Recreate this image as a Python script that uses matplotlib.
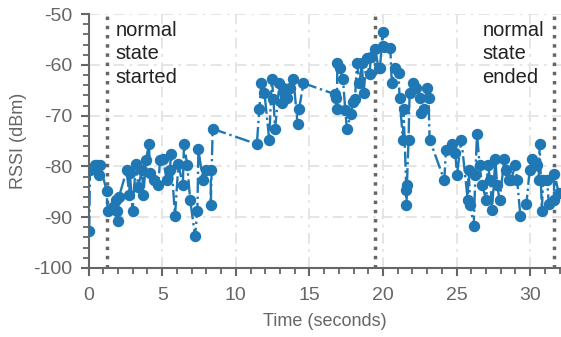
import numpy as np
import matplotlib.pyplot as plt
from matplotlib.ticker import MultipleLocator

plt.rcParams["font.family"] = ["Liberation Sans", "DejaVu Sans"]
plt.rcParams["axes.unicode_minus"] = False

# tiempo (s) y RSSI (dBm)
t = [0.04, 0.09, 0.43, 0.6, 0.7, 0.77, 1.22, 1.29, 1.65, 1.86, 1.9, 1.97, 2.06,
     2.58, 2.76, 2.8, 2.99, 3.2, 3.37, 3.63, 3.72, 3.9, 4.1, 4.17, 4.44, 4.74,
     4.85, 5.07, 5.3, 5.53, 5.58, 5.87, 6.1, 6.4, 6.48, 6.7, 6.9, 7.23, 7.39,
     7.46, 7.76, 7.98, 8.3, 8.3, 8.43,
     11.43, 11.6, 11.74, 11.95, 12.27, 12.45, 12.56, 12.67, 12.97, 13.13, 13.24,
     13.47, 13.7, 13.92, 14.2, 14.3, 14.6,
     16.76, 16.8, 16.87, 16.9, 17.05, 17.28, 17.44, 17.55, 17.82, 17.96, 18.1,
     18.23, 18.4, 18.57, 18.68, 18.9, 19.09, 19.18, 19.47, 19.7, 19.8, 19.97,
     20.0, 20.04, 20.5, 20.6, 20.84, 21.06, 21.13, 21.36, 21.4, 21.59, 21.6,
     21.63, 21.74, 21.81, 22.04, 22.27, 22.49, 22.6, 22.76, 22.99, 23.1, 23.17,
     24.17, 24.28, 24.69, 24.92, 25.03, 25.33, 25.76, 25.82, 25.94, 26.17,
     26.28, 26.39, 26.57, 26.73, 27.03, 27.12, 27.3, 27.41, 27.64, 27.76,
     27.93, 28.25, 28.39, 28.54, 28.7, 29.0, 29.12, 29.34, 29.75, 29.97, 30.13,
     30.48, 30.58, 30.65, 30.8, 30.88, 31.16, 31.27, 31.61, 31.65, 31.95]
rssi = [-92.7, -80.7, -79.7, -79.7, -81.7, -79.7, -84.8, -88.7, -88.0, -86.6,
        -88.7, -90.7, -86.0, -80.8, -85.6, -81.3, -88.7, -79.6, -84.0, -80.7,
        -85.6, -78.7, -75.6, -81.3, -82.7, -83.7, -78.7, -78.6, -82.7, -80.7,
        -77.6, -89.7, -79.6, -83.7, -75.6, -79.7, -86.6, -93.7, -88.7, -76.6,
        -82.7, -80.7, -80.7, -87.6, -72.6,
        -75.6, -68.7, -63.6, -65.6, -74.7, -62.7, -66.7, -72.6, -63.6, -67.6,
        -64.6, -66.6, -64.6, -62.8, -71.7, -68.7, -63.6,
        -65.8, -66.6, -68.7, -59.7, -60.7, -62.7, -68.9, -72.6, -69.7, -67.3,
        -66.8, -59.7, -63.6, -59.7, -65.6, -58.7, -61.7, -58.5, -56.8, -60.7,
        -60.7, -53.6, -56.3, -56.4, -56.6, -63.6, -60.7, -61.6, -66.6, -74.7,
        -68.7, -84.6, -87.6, -83.7, -74.7, -65.6, -63.6, -64.6, -66.6, -69.5,
        -68.7, -64.6, -66.6, -74.7,
        -82.7, -76.8, -75.6, -77.4, -81.7, -74.7, -86.6, -80.7, -87.6, -91.7,
        -81.7, -73.6, -79.7, -83.7, -86.6, -79.7, -82.7, -88.6, -78.6, -83.7,
        -86.6, -78.6, -80.7, -82.7, -82.7, -79.7, -82.7, -89.8, -87.4, -80.7,
        -78.6, -79.7, -82.7, -75.6, -88.7, -82.7, -82.7, -87.4, -86.6, -81.4,
        -85.3]

start_t = 1.25
peak_t = 19.45
end_t = 31.6

fig = plt.figure(figsize=(5.61, 3.37), dpi=100)
ax = fig.add_axes([0.158, 0.205, 0.842, 0.753])

ax.plot(t, rssi, color='#1f77b4', linestyle='-.', linewidth=1.7,
        marker='o', markersize=7.2, zorder=3)

for xv in [start_t, peak_t, end_t]:
    ax.axvline(xv, color='#666666', linestyle=':', linewidth=2.5, zorder=2)

ax.text(1.85, -51.3, "normal\nstate\nstarted", fontsize=14.5, va='top',
        linespacing=1.3, color='#222222')
ax.text(26.75, -51.3, "normal\nstate\nended", fontsize=14.5, va='top',
        linespacing=1.3, color='#222222')

ax.set_xlim(0, 32.1)
ax.set_ylim(-100, -50)
ax.xaxis.set_major_locator(MultipleLocator(5))
ax.xaxis.set_minor_locator(MultipleLocator(1))
ax.yaxis.set_major_locator(MultipleLocator(10))
ax.yaxis.set_minor_locator(MultipleLocator(2))

ax.grid(True, which='major', color='#e3e3e3', linestyle=(0, (6, 3, 1.5, 3)),
        linewidth=1.3, zorder=0)
ax.set_axisbelow(True)

for s in ['top', 'right']:
    ax.spines[s].set_visible(False)
for s in ['left', 'bottom']:
    ax.spines[s].set_color('#666666')
    ax.spines[s].set_linewidth(1.5)

ax.tick_params(which='major', length=6, width=1.5, color='#666666',
               labelcolor='#666666', labelsize=14, pad=6)
ax.tick_params(axis='x', which='major', pad=8)
ax.tick_params(which='minor', length=4, width=1.3, color='#666666')

ax.set_xlabel("Time (seconds)", color='#666666', fontsize=13, labelpad=6)
ax.set_ylabel("RSSI (dBm)", color='#666666', fontsize=13, labelpad=4)

fig.savefig("out.png", dpi=100)
